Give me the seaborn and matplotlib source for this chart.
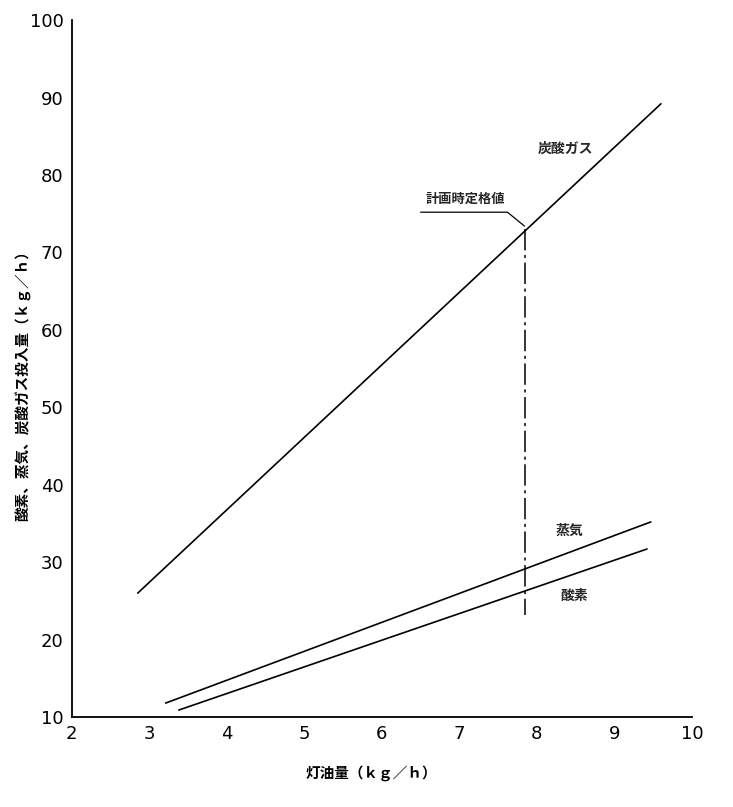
import matplotlib
matplotlib.use("Agg")
import matplotlib.pyplot as plt
import seaborn as sns
import pandas as pd

# Data
co2_x = [2.85, 9.60]
co2_y = [26.0, 89.2]
steam_x = [3.21, 9.47]
steam_y = [11.8, 35.2]
oxy_x = [3.38, 9.42]
oxy_y = [10.9, 31.7]
rated_x = [7.84, 7.84]
rated_y = [73.0, 23.2]
xticks = [2, 3, 4, 5, 6, 7, 8, 9, 10]
yticks = [10, 20, 30, 40, 50, 60, 70, 80, 90, 100]

sns.set_theme(style="white")
plt.rcParams['font.family'] = ['DejaVu Sans', 'Noto Sans CJK JP']
jp = ['Noto Sans CJK JP', 'DejaVu Sans']

fig = plt.figure(figsize=(7.33, 8.07), dpi=100)
ax = fig.add_axes([0.098, 0.1115, 0.846, 0.8635])

df = pd.concat([
    pd.DataFrame({"x": co2_x, "y": co2_y, "s": "co2"}),
    pd.DataFrame({"x": steam_x, "y": steam_y, "s": "steam"}),
    pd.DataFrame({"x": oxy_x, "y": oxy_y, "s": "oxy"}),
])
sns.lineplot(data=df, x="x", y="y", units="s", estimator=None, color="black",
             lw=1.2, ax=ax, legend=False)

# rated-value vertical dash-dot line
ax.plot(rated_x, rated_y, color="black", lw=1.1,
        linestyle=(0, (14, 3, 2, 3)))

# leader for annotation
ax.plot([6.50, 7.62, 7.84], [75.2, 75.2, 73.4], color="black", lw=0.9)

ax.text(7.08, 76.0, "計画時定格値", family=jp, fontsize=9.5, fontweight="bold",
        ha="center", va="bottom")
ax.text(8.37, 83.4, "炭酸ガス", family=jp, fontsize=10, fontweight="bold",
        ha="center", va="center")
ax.text(8.42, 34.1, "蒸気", family=jp, fontsize=10, fontweight="bold",
        ha="center", va="center")
ax.text(8.48, 25.7, "酸素", family=jp, fontsize=10, fontweight="bold",
        ha="center", va="center")

ax.set_xlim(2, 10)
ax.set_ylim(10, 100)
ax.set_xticks(xticks)
ax.set_yticks(yticks)
ax.tick_params(direction="in", length=4, width=1, labelsize=13, colors="black",
               pad=6)
for s in ["top", "right"]:
    ax.spines[s].set_visible(False)
for s in ["left", "bottom"]:
    ax.spines[s].set_color("black")
    ax.spines[s].set_linewidth(1.3)

ax.set_xlabel("灯油量（ｋｇ／ｈ）", family=jp, fontsize=10.5, fontweight="bold",
              color="black")
ax.xaxis.set_label_coords((371 - 72) / 620, -(773 - 717) / 697)
ax.set_ylabel("酸素、蒸気、炭酸ガス投入量（ｋｇ／ｈ）", family=jp, fontsize=10.5,
              fontweight="bold", color="black")
ax.yaxis.set_label_coords((23 - 72) / 620, (717 - 382) / 697)
ax.yaxis.label.set_va("center")
ax.xaxis.label.set_va("center")

fig.savefig("out.png", dpi=100)
